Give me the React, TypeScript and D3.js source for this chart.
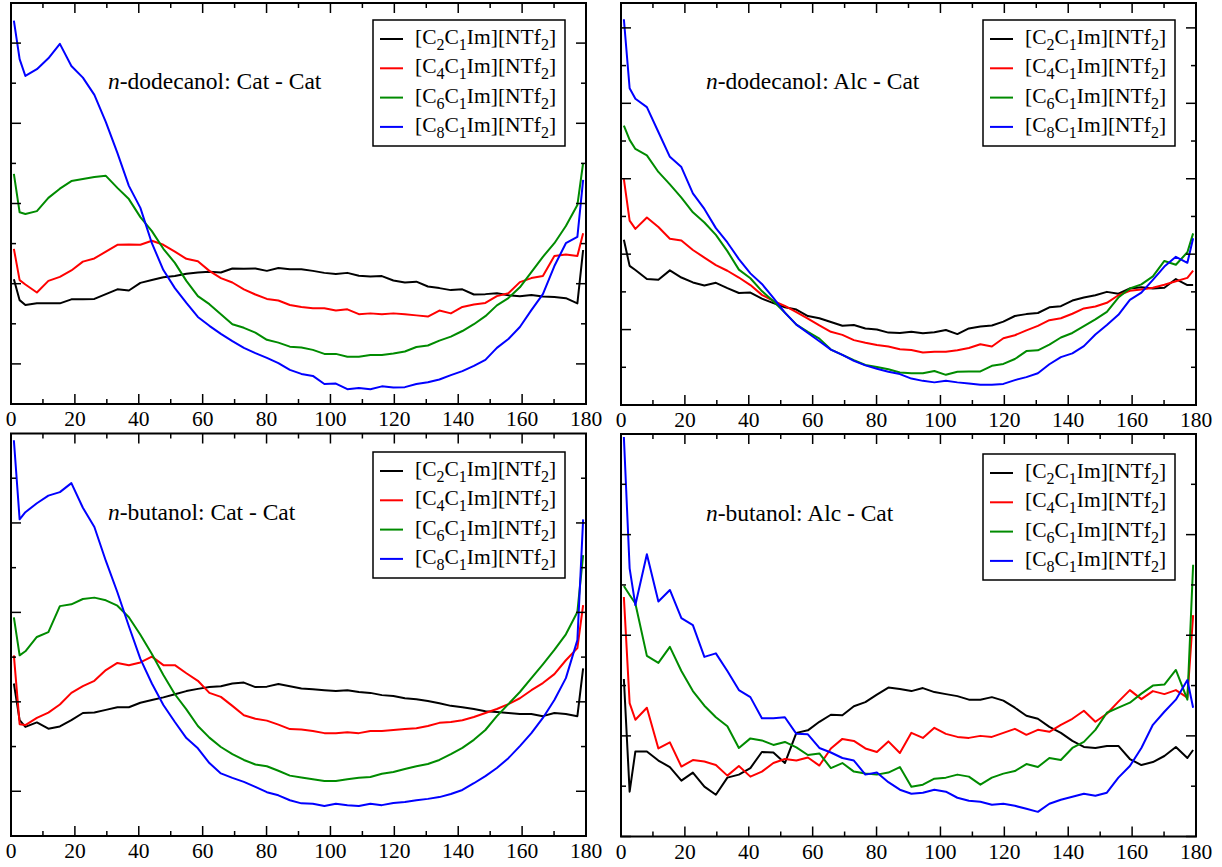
import React, { useEffect, useRef } from 'react';
import * as d3 from 'd3';

const BINS = [0, 1, ...d3.range(2, 100, 2), 99];
const ANGLES = BINS.map(b => 0.9 + 1.8 * b);

const CHAINS = ['2', '4', '6', '8'];
const COLORS = ['#000000', '#ff0000', '#008b00', '#0000ff'];

// n-dodecanol: Cat - Cat
const dodCatC2 = [3.11, 2.59, 2.47, 2.51, 2.51, 2.51, 2.61, 2.61, 2.62, 2.74, 2.86, 2.83, 3.02, 3.09, 3.16, 3.19, 3.25, 3.28, 3.30, 3.28, 3.38, 3.37, 3.38, 3.32, 3.39, 3.36, 3.36, 3.32, 3.27, 3.24, 3.27, 3.20, 3.18, 3.19, 3.08, 3.03, 3.05, 2.93, 2.89, 2.84, 2.86, 2.73, 2.74, 2.76, 2.71, 2.69, 2.72, 2.68, 2.67, 2.64, 2.51, 3.84];
const dodCatC4 = [3.87, 3.09, 2.98, 2.78, 3.07, 3.17, 3.33, 3.55, 3.63, 3.80, 3.97, 3.98, 3.97, 4.07, 3.97, 3.80, 3.62, 3.56, 3.32, 3.14, 3.03, 2.86, 2.73, 2.62, 2.58, 2.47, 2.42, 2.39, 2.39, 2.33, 2.36, 2.24, 2.26, 2.24, 2.26, 2.24, 2.21, 2.18, 2.33, 2.26, 2.42, 2.48, 2.52, 2.69, 2.76, 3.04, 3.14, 3.19, 3.69, 3.73, 3.69, 4.26];
const dodCatC6 = [5.74, 4.78, 4.74, 4.81, 5.14, 5.37, 5.56, 5.61, 5.66, 5.69, 5.39, 5.11, 4.66, 4.31, 3.87, 3.52, 3.07, 2.69, 2.49, 2.24, 1.99, 1.90, 1.78, 1.60, 1.53, 1.43, 1.41, 1.35, 1.25, 1.25, 1.18, 1.18, 1.22, 1.22, 1.26, 1.31, 1.42, 1.46, 1.58, 1.68, 1.82, 1.99, 2.19, 2.46, 2.64, 2.91, 3.29, 3.67, 4.01, 4.44, 4.96, 6.01];
const dodCatC8 = [9.56, 8.60, 8.18, 8.35, 8.62, 8.98, 8.43, 8.14, 7.71, 7.03, 6.26, 5.44, 4.89, 4.01, 3.34, 2.89, 2.52, 2.17, 1.95, 1.75, 1.57, 1.40, 1.27, 1.15, 1.02, 0.85, 0.75, 0.70, 0.50, 0.51, 0.37, 0.40, 0.37, 0.44, 0.41, 0.42, 0.50, 0.54, 0.61, 0.72, 0.82, 0.95, 1.10, 1.40, 1.62, 1.92, 2.34, 2.74, 3.44, 4.01, 4.17, 5.59];

// n-dodecanol: Alc - Cat
const dodAlcC2 = [4.38, 3.69, 3.58, 3.34, 3.32, 3.57, 3.38, 3.25, 3.17, 3.24, 3.10, 2.97, 2.98, 2.82, 2.70, 2.59, 2.53, 2.36, 2.30, 2.20, 2.10, 2.12, 2.03, 2.00, 1.92, 1.91, 1.94, 1.90, 1.93, 1.99, 1.88, 2.03, 2.08, 2.11, 2.21, 2.36, 2.41, 2.44, 2.59, 2.62, 2.77, 2.85, 2.91, 3.00, 2.95, 3.09, 3.12, 3.09, 3.11, 3.34, 3.18, 3.18];
const dodAlcC4 = [5.99, 4.89, 4.67, 4.97, 4.72, 4.41, 4.36, 4.11, 3.91, 3.71, 3.56, 3.38, 3.18, 2.92, 2.76, 2.63, 2.46, 2.29, 2.11, 1.94, 1.86, 1.72, 1.65, 1.59, 1.55, 1.48, 1.46, 1.39, 1.41, 1.41, 1.45, 1.51, 1.61, 1.55, 1.77, 1.85, 1.98, 2.10, 2.25, 2.30, 2.42, 2.56, 2.61, 2.71, 2.91, 3.03, 3.06, 3.11, 3.19, 3.28, 3.37, 3.56];
const dodAlcC6 = [7.41, 7.03, 6.79, 6.62, 6.18, 5.85, 5.50, 5.11, 4.84, 4.51, 4.08, 3.59, 3.36, 3.02, 2.75, 2.45, 2.13, 1.94, 1.76, 1.47, 1.33, 1.19, 1.06, 1.01, 0.95, 0.86, 0.84, 0.84, 0.90, 0.80, 0.88, 0.89, 0.89, 1.04, 1.09, 1.22, 1.43, 1.45, 1.60, 1.79, 1.91, 2.09, 2.27, 2.47, 2.85, 3.09, 3.20, 3.41, 3.82, 3.72, 4.05, 4.55];
const dodAlcC8 = [10.23, 8.40, 8.12, 7.90, 7.24, 6.58, 6.31, 5.61, 5.20, 4.69, 4.31, 3.87, 3.49, 3.21, 2.84, 2.45, 2.13, 1.91, 1.69, 1.47, 1.33, 1.17, 1.05, 0.96, 0.88, 0.82, 0.70, 0.64, 0.60, 0.64, 0.60, 0.57, 0.54, 0.54, 0.56, 0.66, 0.74, 0.84, 1.08, 1.27, 1.37, 1.56, 1.87, 2.12, 2.39, 2.79, 2.98, 3.32, 3.67, 3.93, 3.77, 4.42];

// n-butanol: Cat - Cat
const butCatC2 = [3.41, 2.59, 2.44, 2.54, 2.40, 2.45, 2.59, 2.75, 2.76, 2.82, 2.88, 2.88, 2.98, 3.04, 3.10, 3.17, 3.24, 3.29, 3.33, 3.35, 3.41, 3.43, 3.33, 3.34, 3.40, 3.35, 3.30, 3.28, 3.26, 3.24, 3.26, 3.22, 3.20, 3.15, 3.13, 3.08, 3.06, 3.02, 2.97, 2.91, 2.88, 2.84, 2.79, 2.77, 2.75, 2.73, 2.73, 2.68, 2.75, 2.73, 2.68, 3.75];
const butCatC4 = [4.04, 2.50, 2.48, 2.64, 2.76, 2.94, 3.20, 3.35, 3.47, 3.71, 3.87, 3.82, 3.88, 4.01, 3.82, 3.82, 3.64, 3.47, 3.20, 3.11, 2.91, 2.70, 2.62, 2.58, 2.49, 2.39, 2.38, 2.35, 2.30, 2.30, 2.32, 2.30, 2.35, 2.35, 2.37, 2.39, 2.41, 2.46, 2.53, 2.55, 2.59, 2.66, 2.75, 2.84, 2.95, 3.08, 3.26, 3.42, 3.62, 3.93, 4.20, 5.16];
const butCatC6 = [4.89, 4.04, 4.13, 4.45, 4.56, 5.14, 5.18, 5.30, 5.33, 5.27, 5.15, 4.89, 4.50, 4.07, 3.60, 3.17, 2.83, 2.46, 2.20, 1.99, 1.83, 1.70, 1.60, 1.56, 1.46, 1.35, 1.31, 1.27, 1.23, 1.23, 1.27, 1.30, 1.32, 1.39, 1.43, 1.50, 1.56, 1.61, 1.70, 1.83, 1.97, 2.15, 2.37, 2.68, 2.95, 3.22, 3.53, 3.84, 4.16, 4.51, 5.01, 6.28];
const butCatC8 = [8.85, 7.08, 7.24, 7.44, 7.61, 7.69, 7.89, 7.34, 6.91, 6.15, 5.45, 4.69, 3.96, 3.41, 2.93, 2.55, 2.19, 1.96, 1.63, 1.40, 1.30, 1.21, 1.10, 0.98, 0.91, 0.80, 0.73, 0.72, 0.67, 0.72, 0.69, 0.67, 0.72, 0.69, 0.74, 0.76, 0.80, 0.83, 0.87, 0.94, 1.03, 1.18, 1.34, 1.52, 1.74, 2.01, 2.30, 2.64, 3.04, 3.53, 4.38, 7.08];

// n-butanol: Alc - Cat
const butAlcC2 = [3.13, 0.89, 1.69, 1.69, 1.51, 1.38, 1.11, 1.27, 0.99, 0.83, 1.17, 1.23, 1.36, 1.68, 1.67, 1.46, 2.06, 2.11, 2.28, 2.42, 2.41, 2.59, 2.67, 2.82, 2.96, 2.93, 2.89, 2.95, 2.87, 2.83, 2.79, 2.72, 2.72, 2.77, 2.70, 2.56, 2.40, 2.34, 2.18, 2.06, 1.90, 1.78, 1.76, 1.80, 1.80, 1.54, 1.42, 1.48, 1.60, 1.78, 1.56, 1.72];
const butAlcC4 = [4.76, 2.65, 2.32, 2.56, 1.75, 1.87, 1.39, 1.52, 1.49, 1.42, 1.21, 1.40, 1.19, 1.29, 1.46, 1.54, 1.51, 1.57, 1.41, 1.75, 1.94, 1.90, 1.75, 1.68, 1.89, 1.66, 2.06, 1.96, 2.16, 2.04, 1.98, 1.96, 2.00, 1.98, 2.06, 2.14, 2.02, 2.12, 2.08, 2.22, 2.34, 2.50, 2.28, 2.44, 2.68, 2.91, 2.73, 2.89, 2.83, 2.91, 2.76, 4.40];
const butAlcC6 = [4.98, 4.80, 4.63, 3.59, 3.45, 3.77, 3.29, 2.89, 2.60, 2.37, 2.19, 1.76, 1.95, 1.91, 1.82, 1.88, 1.77, 1.62, 1.65, 1.36, 1.46, 1.29, 1.25, 1.23, 1.27, 1.38, 0.99, 1.03, 1.15, 1.17, 1.23, 1.19, 1.03, 1.17, 1.25, 1.30, 1.44, 1.38, 1.56, 1.52, 1.76, 1.88, 2.12, 2.46, 2.56, 2.66, 2.84, 3.00, 3.02, 3.31, 2.72, 5.40];
const butAlcC8 = [7.94, 5.33, 4.60, 5.61, 4.67, 4.90, 4.34, 4.20, 3.57, 3.64, 3.29, 2.91, 2.77, 2.35, 2.35, 2.37, 2.04, 2.03, 1.76, 1.67, 1.56, 1.51, 1.23, 1.27, 1.08, 0.93, 0.85, 0.87, 0.93, 0.89, 0.77, 0.71, 0.69, 0.63, 0.65, 0.61, 0.55, 0.49, 0.65, 0.73, 0.79, 0.85, 0.81, 0.87, 1.17, 1.40, 1.76, 2.22, 2.48, 2.72, 3.11, 2.56];

const X_MAJOR = d3.range(0, 181, 20);
const X_MINOR = d3.range(10, 180, 20);

// layout of the four panels
const PANELS = [
  {
    solvent: 'dodecanol', pair: 'Cat - Cat', series: [dodCatC2, dodCatC4, dodCatC6, dodCatC8],
    left: 11, right: 586, top: 3, bottom: 404, yMax: 10,
    yMajor: [1, 3, 5, 7, 9], yMinor: [2, 4, 6, 8],
    titleX: 108, titleY: 89, legendX: 373, legendY: 20
  },
  {
    solvent: 'dodecanol', pair: 'Alc - Cat', series: [dodAlcC2, dodAlcC4, dodAlcC6, dodAlcC8],
    left: 621, right: 1196, top: 3, bottom: 405, yMax: 10.66,
    yMajor: [0, 2, 4, 6, 8, 10], yMinor: [1, 3, 5, 7, 9],
    titleX: 706, titleY: 89, legendX: 983, legendY: 20
  },
  {
    solvent: 'butanol', pair: 'Cat - Cat', series: [butCatC2, butCatC4, butCatC6, butCatC8],
    left: 11, right: 586, top: 433.5, bottom: 836, yMax: 9,
    yMajor: [1, 3, 5, 7], yMinor: [2, 4, 6, 8],
    titleX: 108, titleY: 520, legendX: 373, legendY: 452
  },
  {
    solvent: 'butanol', pair: 'Alc - Cat', series: [butAlcC2, butAlcC4, butAlcC6, butAlcC8],
    left: 621, right: 1196, top: 434, bottom: 836.5, yMax: 8,
    yMajor: [0, 2, 4, 6, 8], yMinor: [1, 3, 5, 7],
    titleX: 706, titleY: 521, legendX: 983, legendY: 454
  }
];

const FONT = "'Liberation Serif', 'Times New Roman', serif";

function drawPanel(svg: any, p: any) {
  const x = d3.scaleLinear().domain([0, 180]).range([p.left, p.right]);
  const y = d3.scaleLinear().domain([0, p.yMax]).range([p.bottom, p.top]);
  const g = svg.append('g');

  const line = d3.line<number>()
    .x((d, i) => x(ANGLES[i]))
    .y(d => y(d));

  p.series.forEach((vals: number[], i: number) => {
    g.append('path')
      .attr('d', line(vals))
      .attr('fill', 'none')
      .attr('stroke', COLORS[i])
      .attr('stroke-width', 2)
      .attr('stroke-linejoin', 'round');
  });

  // x ticks, bottom (up) and top (down)
  const xTicks = X_MAJOR.map(v => [v, 10]).concat(X_MINOR.map(v => [v, 5]));
  xTicks.forEach(([v, len]) => {
    g.append('line')
      .attr('x1', x(v)).attr('x2', x(v))
      .attr('y1', p.bottom).attr('y2', p.bottom - len)
      .attr('stroke', 'black').attr('stroke-width', 1.5);
    g.append('line')
      .attr('x1', x(v)).attr('x2', x(v))
      .attr('y1', p.top).attr('y2', p.top + len)
      .attr('stroke', 'black').attr('stroke-width', 1.5);
  });

  // y ticks, left and right, no labels
  const yTicks = p.yMajor.map((v: number) => [v, 10]).concat(p.yMinor.map((v: number) => [v, 5]));
  yTicks.forEach(([v, len]: number[]) => {
    g.append('line')
      .attr('x1', p.left).attr('x2', p.left + len)
      .attr('y1', y(v)).attr('y2', y(v))
      .attr('stroke', 'black').attr('stroke-width', 1.5);
    g.append('line')
      .attr('x1', p.right).attr('x2', p.right - len)
      .attr('y1', y(v)).attr('y2', y(v))
      .attr('stroke', 'black').attr('stroke-width', 1.5);
  });

  // frame
  g.append('rect')
    .attr('x', p.left).attr('y', p.top)
    .attr('width', p.right - p.left).attr('height', p.bottom - p.top)
    .attr('fill', 'none').attr('stroke', 'black').attr('stroke-width', 2);

  // tick labels
  g.selectAll('text.xlab')
    .data(X_MAJOR)
    .enter()
    .append('text')
    .attr('class', 'xlab')
    .attr('x', (d: number) => x(d))
    .attr('y', p.bottom + 22)
    .attr('text-anchor', 'middle')
    .attr('font-family', FONT)
    .attr('font-size', 21.5)
    .text((d: number) => d);

  // panel title
  const title = g.append('text')
    .attr('x', p.titleX).attr('y', p.titleY)
    .attr('font-family', FONT).attr('font-size', 23.5);
  title.append('tspan').attr('font-style', 'italic').text('n');
  title.append('tspan').text(`-${p.solvent}: ${p.pair}`);

  // legend
  const lg = g.append('g').attr('transform', `translate(${p.legendX},${p.legendY})`);
  lg.append('rect')
    .attr('width', 192).attr('height', 126)
    .attr('fill', 'white').attr('stroke', 'black').attr('stroke-width', 1.5);
  CHAINS.forEach((c, i) => {
    const ry = 19 + i * 29.3;
    lg.append('line')
      .attr('x1', 7).attr('x2', 30)
      .attr('y1', ry).attr('y2', ry)
      .attr('stroke', COLORS[i]).attr('stroke-width', 2);
    const t = lg.append('text')
      .attr('x', 42).attr('y', ry + 5)
      .attr('font-family', FONT).attr('font-size', 21.5);
    const parts: [string, boolean][] = [['[C', false], [c, true], ['C', false], ['1', true], ['Im][NTf', false], ['2', true], [']', false]];
    let shift = 0;
    parts.forEach(([s, sub]) => {
      const target = sub ? 6 : 0;
      t.append('tspan')
        .attr('font-size', sub ? 16 : 21.5)
        .attr('dy', target - shift)
        .text(s);
      shift = target;
    });
  });
}

export default function App() {
  const ref = useRef<SVGSVGElement>(null);

  useEffect(() => {
    const svg = d3.select(ref.current);
    svg.selectAll('*').remove();
    PANELS.forEach(p => drawPanel(svg, p));
  }, []);

  return (
    <div style={{ position: 'absolute', left: 0, top: 0 }}>
      <svg ref={ref} width={1222} height={867} style={{ display: 'block', background: 'white' }} />
    </div>
  );
}
